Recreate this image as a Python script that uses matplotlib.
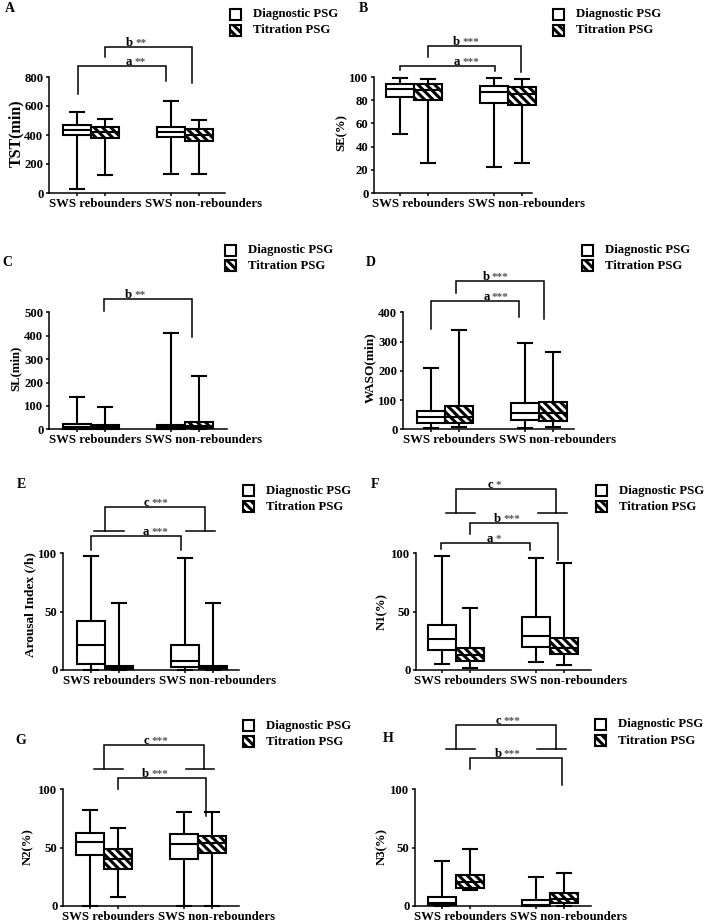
import matplotlib
matplotlib.use('Agg')
import matplotlib.pyplot as plt
import matplotlib.transforms as mtransforms
from matplotlib.patches import Rectangle

plt.rcParams['font.family'] = ['Liberation Serif', 'DejaVu Serif']
plt.rcParams['font.weight'] = 'bold'
plt.rcParams['hatch.linewidth'] = 2.2

# ---------------- data ----------------
groups = ['SWS rebounders', 'SWS non-rebounders']
series = ['Diagnostic PSG', 'Titration PSG']

# five-number summaries (whisker low, Q1, median, Q3, whisker high)
# order: Diagnostic-rebounders, Titration-rebounders, Diagnostic-non, Titration-non
tst = [(30, 402, 432, 467, 559), (126, 379, 418, 455, 510),
       (133, 384, 418, 455, 637), (133, 356, 402, 441, 501)]
se = [(51, 83, 90, 94, 99), (26, 80, 89, 94, 98),
      (22.4, 77.6, 87, 92.5, 99), (26, 76, 85, 91, 98)]
sl = [(0, 2, 8, 23, 140), (0, 2, 8, 20, 97),
      (0, 3, 10, 20, 410), (0, 5, 15, 30, 229)]
waso = [(3, 20, 41, 63, 208), (7, 20, 41, 80, 340),
        (3, 32, 57, 91, 296), (7, 30, 57, 95, 265)]
arousal = [(0, 4.9, 21.4, 42, 97.7), (0, 0.5, 1.5, 3, 57),
           (0, 2.3, 7.7, 21.4, 96), (0, 0.5, 2, 3.4, 57.7)]
n1 = [(4.9, 17, 26.3, 38.6, 97.7), (1.4, 8, 12.9, 18.6, 53),
      (7, 19.4, 29, 45, 96.3), (4.3, 13.4, 18.6, 27.7, 91.4)]
n2 = [(0, 43.6, 55, 62.7, 82), (7.4, 31.3, 39.9, 48.4, 67),
      (0, 40.5, 52.7, 61.3, 80), (0, 45.6, 53.6, 60, 80)]
n3 = [(0, 0.9, 2.3, 7.4, 38.5), (13.7, 15.7, 20.2, 26.5, 48.7),
      (0, 0, 0.9, 5.1, 24.5), (0, 2.3, 5.7, 10.8, 28)]

ylabels = ['TST(min)', 'SE(%)', 'SL(min)', 'WASO(min)',
           'Arousal Index (/h)', 'N1(%)', 'N2(%)', 'N3(%)']
yticks_list = [[0, 200, 400, 600, 800], [0, 20, 40, 60, 80, 100],
               [0, 100, 200, 300, 400, 500], [0, 100, 200, 300, 400],
               [0, 50, 100], [0, 50, 100], [0, 50, 100], [0, 50, 100]]
panel_letters = ['A', 'B', 'C', 'D', 'E', 'F', 'G', 'H']
panel_data = [tst, se, sl, waso, arousal, n1, n2, n3]

# significance brackets: (x1, x2, y, leg1_end, leg2_end, letter, stars, text_x)
brackets = [
    [(1.04, 4.18, 878, 683, 772, 'a', '**', 3.0), (2.0, 5.12, 1009, 936, 756, 'b', '**', 3.04)],
    [(1.0, 4.38, 109.5, 106, 105.4, 'a', '***', 3.17), (2.0, 5.31, 127, 117, 104.6, 'b', '***', 3.17)],
    [(1.96, 5.1, 557, 507, 393, 'b', '**', 3.0)],
    [(1.0, 4.14, 438.6, 342, 385, 'a', '***', 3.13), (1.9, 5.05, 507, 467, 377, 'b', '***', 3.13)],
    [(1.0, 4.2, 115, 102.8, 102.8, 'a', '***', 3.1), (1.5, 5.07, 139.4, 119, 119, 'c', '***', 3.1)],
    [(0.97, 4.14, 109, 103.4, 103, 'a', '*', 2.86), (2.0, 5.14, 126, 116.5, 94.3, 'b', '***', 3.14),
     (1.51, 5.08, 155, 134.8, 134.8, 'c', '*', 2.86)],
    [(1.99, 5.14, 109, 99.7, 77, 'b', '***', 3.14), (1.51, 5.08, 137.6, 116.8, 116.8, 'c', '***', 3.14)],
    [(1.51, 5.06, 155, 134, 134, 'c', '***', 3.15), (2.0, 5.3, 126.8, 116.8, 103.4, 'b', '***', 3.15)],
]
# group bars under the "c" comparisons: (x1, x2, y)
group_bars = [
    [], [], [], [],
    [(1.12, 2.18, 119), (4.39, 5.43, 119)],
    [(1.15, 2.18, 134.8), (4.44, 5.45, 134.8)],
    [(1.15, 2.17, 116.8), (4.42, 5.44, 116.8)],
    [(1.15, 2.17, 134), (4.4, 5.44, 134)],
]

# ---------------- layout (pixels) ----------------
W, H = 708, 923
positions = [1, 2, 4.35, 5.35]
group_label_x = [1.65, 5.52]
# axis left, first box centre, axis right, y of zero, y of top tick
frames = [(49, 77, 225, 193, 77), (374, 400, 532, 193, 77),
          (49, 77, 227, 429.3, 312.3), (403, 431, 574, 429.3, 312.3),
          (63, 91, 239, 670, 553.3), (416, 442, 591, 670, 553.3),
          (63, 90, 239, 906, 789), (415, 442, 591, 906, 789)]
ylabel_pos = [(16, 133), (342, 133), (16, 368), (370, 368),
              (30, 605), (382, 612), (28, 847), (382, 847)]
ylabel_size = [11.5, 9.2, 9.2, 9.6, 9.6, 9.2, 9.2, 9.2]
letter_pos = [(5, 9), (359, 9), (2, 263), (366, 263),
              (17, 485), (371, 485), (15, 740), (383, 739)]
legend_pos = [(230, 14.5, 30), (553, 14.3, 30), (225, 250, 265.7), (582, 250, 265.7),
              (243, 490.7, 506.7), (596, 490.7, 506.7), (243, 725.7, 741.7), (595, 724.3, 740.7)]

FS = 9.2
LW = 1.5
HATCH = '\\' * 4
fig = plt.figure(figsize=(W / 100, H / 100), dpi=100)
px = mtransforms.Affine2D().scale(1 / W, -1 / H).translate(0, 1) + fig.transFigure


def stats_of(vals):
    return [dict(whislo=v[0], q1=v[1], med=v[2], q3=v[3], whishi=v[4], fliers=[]) for v in vals]


for i in range(8):
    left, c1, right, y0, ytop = frames[i]
    u = 28.0
    ax = fig.add_axes([left / W, 1 - y0 / H, (right - left) / W, (y0 - ytop) / H])
    ax.set_xlim(1 - (c1 - left) / u, 1 + (right - c1) / u)
    yt = yticks_list[i]
    ax.set_ylim(0, yt[-1])
    data = panel_data[i]
    common = dict(widths=1.0, patch_artist=True, showfliers=False, manage_ticks=False,
                  medianprops=dict(color='black', linewidth=LW),
                  whiskerprops=dict(color='black', linewidth=LW),
                  capprops=dict(color='black', linewidth=LW), capwidths=0.5)
    r1 = ax.bxp(stats_of([data[0], data[2]]), positions=[positions[0], positions[2]],
                boxprops=dict(facecolor='white', edgecolor='black', linewidth=LW), **common)
    r2 = ax.bxp(stats_of([data[1], data[3]]), positions=[positions[1], positions[3]],
                boxprops=dict(facecolor='white', edgecolor='black', linewidth=LW, hatch=HATCH), **common)
    for r in (r1, r2):
        for k, arts in r.items():
            for a in arts:
                a.set_clip_on(False)

    for s in ('top', 'right'):
        ax.spines[s].set_visible(False)
    for s in ('left', 'bottom'):
        ax.spines[s].set_linewidth(1.1)
    ax.set_yticks(yt)
    ax.set_xticks(positions)
    ax.set_xticklabels([])
    ax.set_xticks(group_label_x, labels=groups, minor=True)
    ax.tick_params(axis='x', which='major', length=2.5, width=1.1, direction='out')
    ax.tick_params(axis='x', which='minor', length=0, pad=3.5, labelsize=FS)
    ax.tick_params(axis='y', length=2.5, width=1.1, pad=1.5, labelsize=FS)
    for lab in ax.get_xticklabels(minor=True) + ax.get_yticklabels():
        lab.set_fontweight('bold')

    # brackets
    for (x1, x2, y, l1, l2, letter, stars, tx) in brackets[i]:
        ax.plot([x1, x1, x2, x2], [l1, y, y, l2], color='black', lw=1.1,
                clip_on=False, solid_joinstyle='miter')
        ax.annotate(letter, xy=(tx, y), xytext=(-0.5, 0.8), textcoords='offset points',
                    ha='right', va='baseline', fontsize=FS, fontweight='bold', annotation_clip=False)
        ax.annotate(stars, xy=(tx, y), xytext=(1.0, 0.8), textcoords='offset points',
                    ha='left', va='baseline', fontsize=8, color='#555555', annotation_clip=False)
    for (x1, x2, y) in group_bars[i]:
        ax.plot([x1, x2], [y, y], color='black', lw=1.1, clip_on=False)

    # y label, panel letter
    fig.text(ylabel_pos[i][0], ylabel_pos[i][1], ylabels[i], transform=px, rotation=90,
             ha='center', va='center', fontsize=ylabel_size[i], fontweight='bold')
    fig.text(letter_pos[i][0], letter_pos[i][1], panel_letters[i], transform=px,
             ha='left', va='center', fontsize=10, fontweight='bold')

    # legend
    sx, ry1, ry2 = legend_pos[i]
    for ry, name, hatch in ((ry1, series[0], None), (ry2, series[1], HATCH)):
        rect = Rectangle((sx, ry - 5.5), 11, 11, transform=px, facecolor='white',
                         edgecolor='black', linewidth=LW, hatch=hatch)
        fig.add_artist(rect)
        fig.text(sx + 23, ry, name, transform=px, ha='left', va='center',
                 fontsize=FS, fontweight='bold')

fig.savefig('out.png', dpi=100)
